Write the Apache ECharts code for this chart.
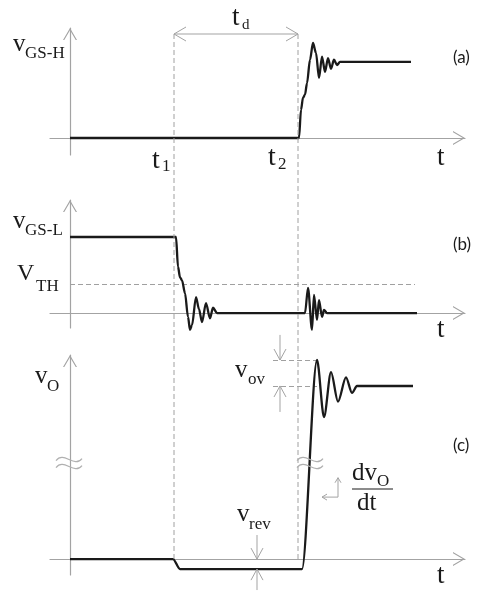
<!DOCTYPE html>
<html>
<head>
<meta charset="utf-8">
<script src="https://cdn.jsdelivr.net/npm/echarts@6/dist/echarts.min.js"></script>
<style>
html, body { margin: 0; padding: 0; background: #fff; }
#main { width: 480px; height: 596px; }
</style>
</head>
<body>
<div id="main"></div>
<script>
// switching instants (time units) and threshold level
var t1 = 104, t2 = 228;
var vTH = 0.38;

// (a) v_GS-H, normalised to its final level
var tA = [0, 229, 231, 233, 235, 237, 240, 243, 246, 249, 252, 255, 258, 261, 264, 267, 270, 341];
var vA = [0, 0, 0.37, 0.53, 0.57, 0.72, 1.03, 1.25, 1.12, 0.79, 1.07, 0.87, 1.05, 0.91, 1.03, 0.96, 1.0, 1.0];

// (b) v_GS-L
var tB = [0, 106, 108, 110, 112, 115, 118, 120, 122, 126, 129, 132, 136, 140, 143, 147,
          235, 238, 242, 244, 247, 249, 252, 254, 257, 347];
var vB = [1, 1, 0.61, 0.47, 0.43, 0.26, -0.05, -0.22, -0.16, 0.21, 0.05, -0.12, 0.13, -0.07, 0.07, 0,
          0, 0.33, -0.22, 0.24, -0.09, 0.17, -0.05, 0.04, 0, 0];

// (c) v_O
var tC = [0, 103, 110, 232, 247, 254, 261, 268, 276, 282, 287, 343];
var vC = [0, 0, -0.058, -0.058, 1.15, 0.82, 1.08, 0.91, 1.05, 0.96, 1.0, 1.0];
var vOvPeak = 1.15, vRev = -0.058;

var GRAY = '#a3a3a3', DASH = '#a0a0a0', INK = '#1a1a1a';
var SERIF = '"Liberation Serif", "Times New Roman", serif';
var ARROW = 'path://M0,12 L7,0 L14,12 L12.73,12 L7,2.18 L1.27,12 Z';

var panels = [
    {top: 28, height: 127, min: -0.224, max: 1.447},
    {top: 200, height: 128, min: -0.197, max: 1.487},
    {top: 355, height: 220, min: -0.092, max: 1.179}
];

function pairs(t, v) {
    return t.map(function (x, i) { return [x, v[i]]; });
}

var axisLine = {
    onZero: true,
    symbol: ['none', ARROW],
    symbolSize: [14, 12],
    symbolOffset: [0, -6],
    lineStyle: {color: GRAY, width: 1.2}
};

var dashed = {color: DASH, type: [5, 3], width: 1};

var chart = echarts.init(document.getElementById('main'));

function wave(i, t, v, extra) {
    return Object.assign({
        type: 'line', xAxisIndex: i, yAxisIndex: i, data: pairs(t, v),
        showSymbol: false, clip: false, z: 5,
        smooth: 0.3, smoothMonotone: 'x',
        lineStyle: {color: INK, width: 2.3}
    }, extra || {});
}

var option = {
    animation: false,
    backgroundColor: '#fff',
    grid: panels.map(function (p) {
        return {left: 50, right: 15, top: p.top, height: p.height};
    }),
    xAxis: panels.map(function (p, i) {
        return {
            type: 'value', gridIndex: i, min: -20, max: 395,
            axisLine: axisLine, axisTick: {show: false},
            axisLabel: {show: false}, splitLine: {show: false}
        };
    }),
    yAxis: panels.map(function (p, i) {
        return {
            type: 'value', gridIndex: i, min: p.min, max: p.max,
            axisLine: axisLine, axisTick: {show: false},
            axisLabel: {show: false}, splitLine: {show: false}
        };
    }),
    series: [
        wave(0, tA, vA),
        wave(1, tB, vB, {
            markLine: {
                silent: true, symbol: 'none', label: {show: false},
                lineStyle: dashed,
                data: [[{coord: [0, vTH]}, {coord: [345, vTH]}]]
            }
        }),
        wave(2, tC, vC, {
            markLine: {
                silent: true, symbol: 'none', label: {show: false},
                lineStyle: dashed,
                data: [
                    [{coord: [203, vOvPeak]}, {coord: [247, vOvPeak]}],
                    [{coord: [203, 1]}, {coord: [247, 1]}]
                ]
            }
        })
    ]
};

chart.setOption(option);

function P(g, t, v) {
    return chart.convertToPixel({gridIndex: g}, [t, v]);
}

function seg(a, b, style) {
    return {type: 'line', silent: true, z: 8,
        shape: {x1: a[0], y1: a[1], x2: b[0], y2: b[1]},
        style: Object.assign({stroke: GRAY, lineWidth: 1}, style || {})};
}

// open arrowhead with its tip at `tip`, pointing from `from` towards tip
function head(from, tip, len, half) {
    var dx = tip[0] - from[0], dy = tip[1] - from[1];
    var d = Math.sqrt(dx * dx + dy * dy);
    dx /= d; dy /= d;
    var bx = tip[0] - dx * len, by = tip[1] - dy * len;
    return {type: 'polyline', silent: true, z: 8,
        shape: {points: [[bx - dy * half, by + dx * half], tip, [bx + dy * half, by - dx * half]]},
        style: {stroke: GRAY, lineWidth: 1, fill: null}};
}

function arrow(from, tip, len, half) {
    return [seg(from, tip), head(from, tip, len, half)];
}

// axis-break mark: two stacked tildes centred on p
function breakMark(p) {
    return [-3.5, 3.5].map(function (dy) {
        var x = p[0], y = p[1] + dy;
        return {type: 'bezierCurve', silent: true, z: 10,
            shape: {x1: x - 13, y1: y + 1, cpx1: x - 5, cpy1: y - 9,
                    cpx2: x + 5, cpy2: y + 9, x2: x + 13, y2: y - 1},
            style: {stroke: '#b0b0b0', lineWidth: 1.2, fill: null}};
    });
}

// text placed by its alphabetic baseline
function txt(x, base, s, size, font, align) {
    return {type: 'text', silent: true, z: 9, x: x, y: base - 0.3375 * size,
        style: {text: s, fontSize: size, fontFamily: font || SERIF, fill: INK,
            align: align || 'left', verticalAlign: 'middle'}};
}

var g = [];

// vertical dashed markers at t1 and t2
var tdLevel = 1.368;
[t1, t2].forEach(function (t) {
    g.push(seg(P(0, t, tdLevel), P(2, t, 0), {stroke: DASH, lineDash: [5, 3]}));
});

// t_d double arrow
var a1 = P(0, t1, tdLevel), a2 = P(0, t2, tdLevel);
g.push(seg(a1, a2));
g.push(head(a2, a1, 12, 7));
g.push(head(a1, a2, 12, 7));

// v_ov arrows (panel c)
g = g.concat(arrow(P(2, 210, 1.295), P(2, 210, vOvPeak), 11, 6));
g = g.concat(arrow(P(2, 210, 0.85), P(2, 210, 1.0), 11, 6));

// v_rev arrows (panel c)
g = g.concat(arrow(P(2, 187, 0.139), P(2, 187, 0), 11, 6));
g = g.concat(arrow(P(2, 187, -0.179), P(2, 187, vRev), 11, 6));

// dv/dt corner arrows
var corner = P(2, 268, 0.358);
g = g.concat(arrow(corner, P(2, 268, 0.47), 5, 3));
g = g.concat(arrow(corner, P(2, 252, 0.358), 5, 3));

// axis-break symbols on the v_O axis and on the rising edge
g = g.concat(breakMark(P(2, -1, 0.555)), breakMark(P(2, 240, 0.555)));

// labels
g.push(txt(13, 53, 'v', 25), txt(25, 59, 'GS-H', 17));
g.push(txt(13, 230, 'v', 25), txt(25, 236, 'GS-L', 17));
g.push(txt(17, 282, 'V', 24), txt(36, 292, 'TH', 17));
g.push(txt(35, 385, 'v', 25), txt(47, 392, 'O', 17));
g.push(txt(152, 170, 't', 28), txt(162, 172, '1', 17));
g.push(txt(268, 167, 't', 28), txt(278, 170, '2', 17));
g.push(txt(232, 27, 't', 27), txt(242, 30, 'd', 15));
g.push(txt(437, 167, 't', 27), txt(437, 339, 't', 27), txt(437, 585, 't', 27));
g.push(txt(235, 379, 'v', 25), txt(248, 385, 'ov', 17));
g.push(txt(237, 523, 'v', 25), txt(249, 530, 'rev', 17));
g.push(txt(352, 482, 'dv', 25), txt(377, 487, 'O', 17));
g.push(seg([352, 489], [393, 489], {stroke: INK, lineWidth: 1.2}));
g.push(txt(357, 512, 'dt', 25));

[['(a)', 58], ['(b)', 245], ['(c)', 446]].forEach(function (l) {
    g.push({type: 'text', silent: true, z: 9, x: 453, y: l[1],
        style: {text: l[0], fontSize: 17, fontFamily: 'Lato, "Open Sans", sans-serif', fill: INK,
            align: 'left', verticalAlign: 'middle'}});
});

chart.setOption({graphic: g});
</script>
</body>
</html>
